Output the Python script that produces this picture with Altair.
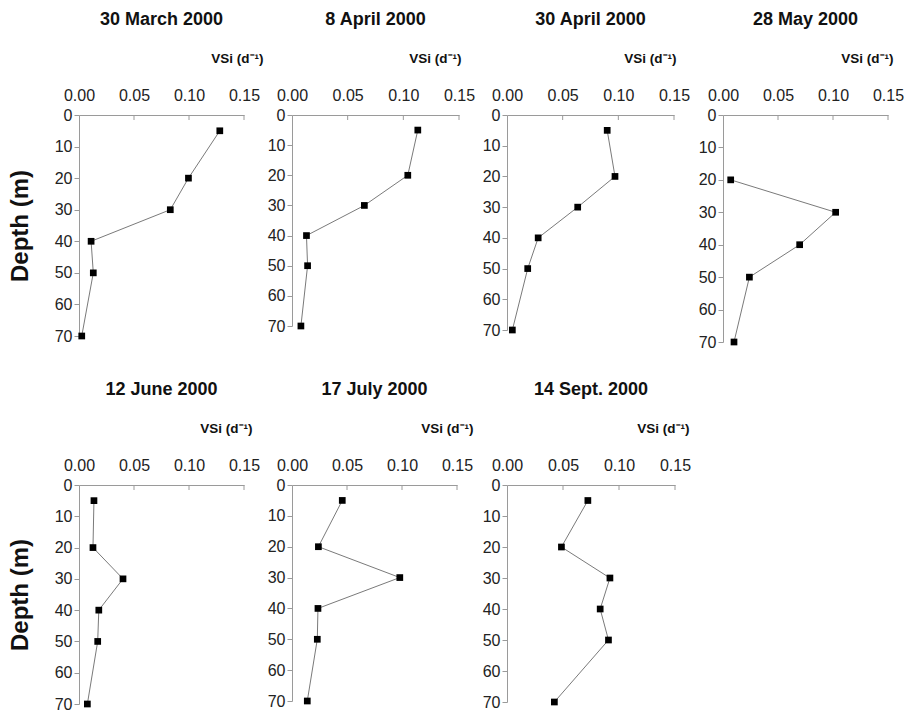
import altair as alt
import pandas as pd

# ---- data ----
depth = [5, 20, 30, 40, 50, 70]
titles = ["30 March 2000", "8 April 2000", "30 April 2000", "28 May 2000",
          "12 June 2000", "17 July 2000", "14 Sept. 2000"]
mar30 = [0.128, 0.0995, 0.083, 0.011, 0.013, 0.0025]
apr08 = [0.113, 0.104, 0.065, 0.013, 0.014, 0.008]
apr30 = [0.090, 0.097, 0.0635, 0.028, 0.0186, 0.0048]
may28 = [None, 0.007, 0.1024, 0.0697, 0.024, 0.010]
jun12 = [0.0136, 0.0127, 0.040, 0.018, 0.017, 0.0076]
jul17 = [0.0457, 0.024, 0.098, 0.0236, 0.023, 0.0139]
sep14 = [0.0722, 0.0486, 0.0919, 0.0832, 0.0906, 0.0423]
series = [mar30, apr08, apr30, may28, jun12, jul17, sep14]

x_ticks = [0.00, 0.05, 0.10, 0.15]
x_minor = [0.05, 0.10, 0.15]
y_ticks = [0, 10, 20, 30, 40, 50, 60, 70]

# layout per panel (plot width, height, VSi label offset, y title)
widths = [165, 167, 167, 165, 165, 165, 168]
heights = [221, 211, 215, 227, 219, 216, 217]
vsi_dx = [19, 2, 2, 5, 8, 16, 14]
show_ytitle = [True, False, False, False, True, False, False]

FONT = "Liberation Sans"
AXIS_GREY = "#9a9a9a"


def panel(i):
    df = pd.DataFrame({"depth": depth, "vsi": series[i]}).dropna()
    ticks_df = pd.DataFrame({"vsi": x_minor})
    w, h = widths[i], heights[i]
    x = alt.X(
        "vsi:Q",
        scale=alt.Scale(domain=[0, 0.15], nice=False, zero=True),
        axis=alt.Axis(
            orient="top", values=x_ticks, format=".2f", ticks=False, grid=False,
            domainColor=AXIS_GREY, domainWidth=1, labelFontSize=16,
            labelColor="#222222", labelPadding=12, labelFlush=False,
            labelOverlap=False, title="VSi (d⁻¹)", titleX=w + vsi_dx[i],
            titleY=-57, titleAlign="right", titleBaseline="middle",
            titleFontSize=13.5, titleFontWeight="bold", titleColor="#111111",
        ),
    )
    y = alt.Y(
        "depth:Q",
        scale=alt.Scale(domain=[0, 70], reverse=True, nice=False),
        axis=alt.Axis(
            values=y_ticks, tickSize=5, tickColor=AXIS_GREY, domainColor=AXIS_GREY,
            grid=False, labelFontSize=16, labelColor="#222222", labelPadding=2,
            labelFlush=False, labelOverlap=False,
            title="Depth (m)" if show_ytitle[i] else "",
            titleFontSize=24, titleFontWeight="bold", titleColor="#111111",
            titlePadding=22,
        ),
    )
    line = alt.Chart(df).mark_line(color="#7a7a7a", strokeWidth=1).encode(
        x=x, y=y, order=alt.Order("depth:Q"))
    pts = alt.Chart(df).mark_square(size=45, color="black", opacity=1).encode(x=x, y=y)
    tk = alt.Chart(ticks_df).mark_rule(color=AXIS_GREY, strokeWidth=1).encode(
        x=x, y=alt.value(0), y2=alt.value(5))
    return alt.layer(tk, line, pts).properties(
        width=w, height=h,
        title=alt.TitleParams(titles[i], fontSize=18, fontWeight="bold", font=FONT,
                              anchor="middle", offset=22, color="#111111"),
    )


chart = alt.concat(
    *[panel(i) for i in range(7)],
    columns=4,
    spacing={"row": 143, "column": 48},
    bounds="flush",
).configure_view(strokeWidth=0).configure_axis(
    labelFont=FONT, titleFont=FONT
).configure_title(font=FONT).properties(
    padding={"left": 8, "top": 11, "right": 5, "bottom": 5}
)

chart.save("out.html", embed_options={"renderer": "svg", "actions": False})
